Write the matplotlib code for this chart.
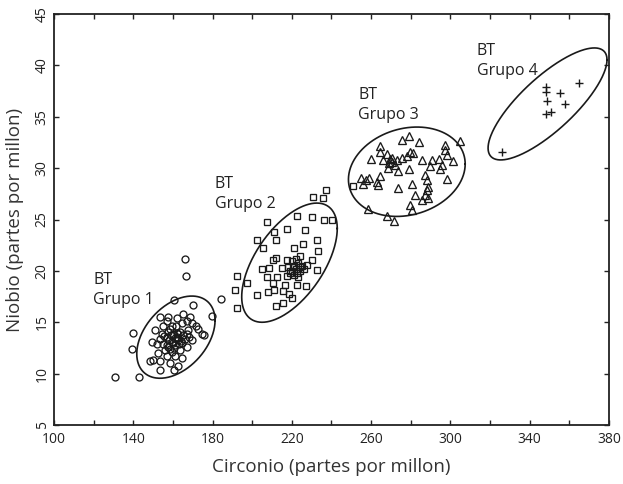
import numpy as np
import matplotlib
matplotlib.use("Agg")
import matplotlib.pyplot as plt

plt.rcParams['font.family'] = ['Open Sans', 'DejaVu Sans']

# ---- Data (Zr ppm, Nb ppm) ----
g1_x = [130.8, 143.0, 139.7, 139.2, 166.1, 166.6, 184.1, 179.6, 160.5, 170.3,
        174.5, 175.7, 172.8, 171.6, 153.5, 160.5, 148.4, 150.1, 153.5, 149.3,
        157.7, 161.9, 168.6, 164.4, 155.2, 158.5, 160.2, 163.6, 166.9, 156.8,
        153.5, 151.8, 155.2, 159.4, 162.7, 166.1, 169.5, 156.0, 159.4, 163.6,
        166.9, 152.6, 156.8, 161.1, 164.4, 151.0, 161.6, 165.3, 166.9, 153.5,
        158.5, 162.7, 169.5, 154.3, 161.1, 157.7, 164.4, 161.9, 165.3, 156.8,
        158.0, 159.0, 160.0, 161.0, 162.0, 163.0, 157.0, 158.5, 160.5, 162.5,
        164.0, 155.5, 157.5, 159.5, 167.5, 168.0]
g1_y = [9.7, 9.7, 14.0, 12.4, 21.2, 19.5, 17.3, 15.6, 17.2, 16.7,
        13.9, 13.8, 14.3, 14.6, 10.4, 10.4, 11.2, 11.3, 15.5, 13.1,
        15.5, 15.4, 15.5, 14.9, 14.6, 14.3, 13.9, 14.1, 13.9, 13.6,
        13.4, 12.9, 12.9, 13.1, 13.3, 13.4, 13.3, 12.3, 12.1, 12.3,
        12.6, 12.0, 11.7, 11.7, 11.5, 14.2, 14.6, 15.8, 15.1, 11.2,
        11.0, 10.7, 14.9, 13.9, 12.8, 12.6, 13.0, 13.6, 13.8, 15.1,
        13.3, 13.8, 13.0, 13.5, 14.0, 12.9, 12.8, 12.4, 12.5, 13.9,
        13.2, 13.7, 14.1, 14.6, 14.2, 13.6]

g2_x = [237.2, 230.8, 235.5, 222.8, 230.3, 236.2, 240.1, 207.3, 217.4, 226.6,
        211.0, 212.0, 202.3, 205.3, 225.8, 232.5, 221.1, 233.3, 210.3, 217.4,
        224.1, 230.0, 204.8, 208.6, 214.9, 220.7, 224.1, 227.5, 232.5, 207.3,
        212.3, 217.4, 222.4, 219.0, 197.2, 210.7, 216.5, 222.4, 227.1, 211.0,
        215.6, 218.7, 208.1, 202.3, 192.5, 191.3, 192.5, 212.0, 215.7, 219.9,
        220.0, 221.0, 222.0, 223.0, 224.0, 225.0, 219.0, 218.0, 221.0, 223.0,
        226.0, 220.0, 222.0, 212.0, 251.0]
g2_y = [27.9, 27.2, 27.05, 25.3, 25.2, 25.0, 24.95, 24.8, 24.05, 24.0,
        23.8, 23.0, 23.0, 22.2, 22.6, 23.0, 22.2, 21.9, 21.1, 21.1,
        21.45, 21.05, 20.15, 20.25, 20.25, 20.4, 20.4, 20.6, 20.1, 19.4,
        19.45, 19.5, 19.75, 20.0, 18.85, 18.8, 18.6, 18.6, 18.5, 18.1,
        18.0, 17.75, 17.9, 17.65, 19.5, 18.1, 16.35, 16.6, 16.85, 17.4,
        20.0, 20.5, 20.2, 20.8, 20.0, 20.5, 19.8, 20.4, 19.6, 19.4,
        20.2, 21.0, 21.2, 21.3, 28.3]

g3_x = [275.4, 279.1, 284.3, 264.5, 297.3, 304.8, 264.5, 267.8, 270.4, 279.6,
        281.0, 259.8, 266.2, 269.5, 272.9, 275.4, 278.3, 285.5, 290.5, 294.4,
        297.3, 298.1, 301.1, 289.7, 294.8, 295.6, 268.7, 273.7, 279.3, 287.2,
        254.7, 257.4, 259.1, 262.8, 264.5, 256.1, 263.6, 288.0, 288.9, 298.1,
        280.5, 273.7, 288.0, 282.1, 287.2, 285.5, 288.5, 279.6, 280.5, 258.6,
        267.8, 271.5, 270.4, 272.0, 269.2]
g3_y = [32.7, 33.1, 32.5, 32.2, 32.3, 32.6, 31.6, 31.4, 31.0, 31.6,
        31.5, 30.9, 30.8, 30.9, 30.8, 31.0, 31.2, 30.8, 30.8, 30.9,
        31.8, 31.3, 30.7, 30.2, 29.9, 30.3, 30.0, 29.7, 29.9, 29.3,
        29.0, 28.85, 29.0, 28.7, 29.2, 28.5, 28.4, 28.85, 28.2, 28.9,
        28.5, 28.1, 27.9, 27.4, 27.4, 26.9, 27.1, 26.4, 25.9, 26.0,
        25.3, 24.9, 30.6, 30.3, 30.5]

g4_x = [325.9, 348.2, 348.2, 355.3, 365.0, 348.9, 357.8, 348.2, 350.6]
g4_y = [31.6, 37.9, 37.4, 37.3, 38.3, 36.5, 36.2, 35.3, 35.5]

# ellipse parameters: centre x, centre y, half-width x, half-height y, phase (deg)
ell_cx = [161.5, 218.8, 278.0, 349.0]
ell_cy = [13.55, 20.8, 29.65, 36.25]
ell_ax = [19.75, 24.1, 29.45, 30.0]
ell_by = [4.0, 5.8, 4.35, 5.45]
ell_ph = [66, 55, 80, 38]

label_x = [119.8, 181.2, 253.5, 313.3]
label_y = [19.9, 29.2, 37.9, 42.15]
label_txt = ["BT\nGrupo 1", "BT\nGrupo 2", "BT\nGrupo 3", "BT\nGrupo 4"]

x_ticks = list(range(100, 381, 20))
x_labels = [str(v) if (v - 100) % 40 == 0 else "" for v in x_ticks]
y_ticks = list(range(5, 46, 5))

fig = plt.figure(figsize=(6.23, 4.84), dpi=100)
ax = fig.add_axes([0.0867, 0.1219, 0.8908, 0.8491])

mkw = dict(linestyle='none', markerfacecolor='none', markeredgecolor='#1a1a1a',
           markeredgewidth=0.95)
ax.plot(g1_x, g1_y, marker='o', markersize=5.0, **mkw)
ax.plot(g2_x, g2_y, marker='s', markersize=4.7, **mkw)
ax.plot(g3_x, g3_y, marker='^', markersize=5.8, **mkw)
ax.plot(g4_x, g4_y, marker='+', markersize=6.0, linestyle='none',
        color='#1a1a1a', markeredgewidth=1.0)

t = np.linspace(0, 2 * np.pi, 300)
for cx, cy, a, b, ph in zip(ell_cx, ell_cy, ell_ax, ell_by, ell_ph):
    d = np.deg2rad(ph)
    ax.plot(cx + a * np.cos(t), cy + b * np.cos(t + d), color='#1a1a1a', lw=1.2)

for lx, ly, s in zip(label_x, label_y, label_txt):
    ax.text(lx, ly, s, ha='left', va='top', fontsize=11.5, linespacing=1.3,
            color='#222222')

ax.set_xlim(100, 380)
ax.set_ylim(5, 45)
ax.set_xticks(x_ticks)
ax.set_xticklabels(x_labels)
ax.set_yticks(y_ticks)
ax.set_yticklabels([str(v) for v in y_ticks], rotation=90, va='center')
ax.tick_params(direction='in', top=True, right=True, length=3.5, width=1.0,
               labelsize=10, colors='#222222')
ax.tick_params(axis='x', pad=5)
ax.tick_params(axis='y', pad=3)
for sp in ax.spines.values():
    sp.set_linewidth(1.3)
    sp.set_color('#222222')

ax.set_xlabel("Circonio (partes por millon)", fontsize=13.5, color='#333333', labelpad=8)
ax.set_ylabel("Niobio (partes por millon)", fontsize=13.5, color='#333333', labelpad=8)

fig.savefig("out.png", dpi=100)
